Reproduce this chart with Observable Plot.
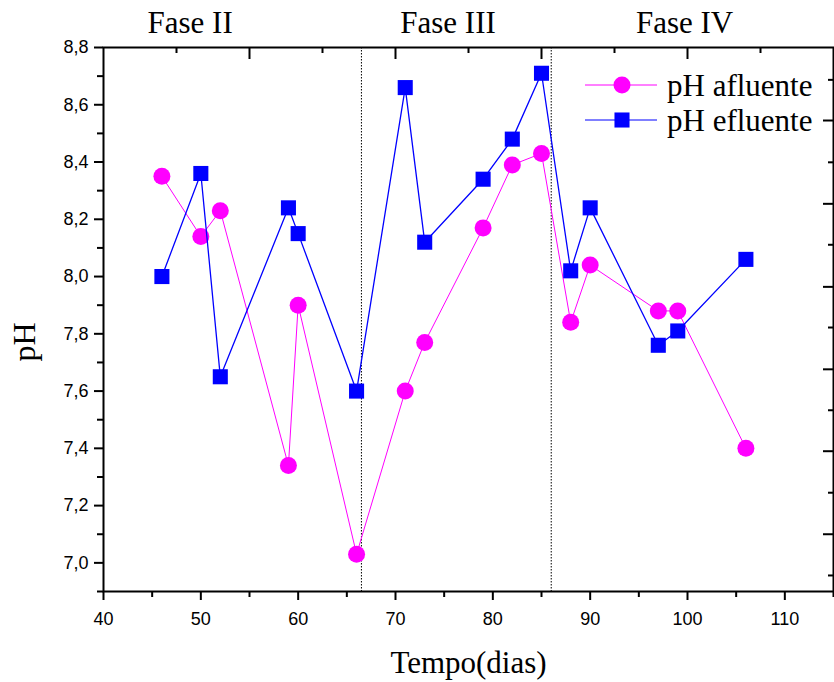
<!DOCTYPE html>
<html>
<head>
<meta charset="utf-8">
<script src="https://cdn.jsdelivr.net/npm/d3@7"></script>
<script src="https://cdn.jsdelivr.net/npm/@observablehq/plot@0.6"></script>
<style>
  html, body { margin: 0; padding: 0; background: white; }
</style>
</head>
<body>
<script>
// ---- data ----
const days = [46, 50, 52, 59, 60, 66, 71, 73, 79, 82, 85, 88, 90, 97, 99, 106];
const phAfluente = [8.35, 8.14, 8.23, 7.34, 7.90, 7.03, 7.60, 7.77, 8.17, 8.39, 8.43, 7.84, 8.04, 7.88, 7.88, 7.40];
const phEfluente = [8.00, 8.36, 7.65, 8.24, 8.15, 7.60, 8.66, 8.12, 8.34, 8.48, 8.71, 8.02, 8.24, 7.76, 7.81, 8.06];
const seriesNames = ["pH afluente", "pH efluente"];
const seriesColors = ["#ff00ff", "#0000ff"];
const seriesSymbols = ["circle", "square"];

const phaseNames = ["Fase II", "Fase III", "Fase IV"];
const phaseCenters = [48.9, 75.4, 99.7];
const phaseBoundaries = [66.5, 86];

const xMajorTicks = [40, 50, 60, 70, 80, 90, 100, 110];
const xMinorTicks = [45, 55, 65, 75, 85, 95, 105, 115];
const yMajorTicks = [7.0, 7.2, 7.4, 7.6, 7.8, 8.0, 8.2, 8.4, 8.6, 8.8];
const yMinorTicks = [6.9, 7.1, 7.3, 7.5, 7.7, 7.9, 8.1, 8.3, 8.5, 8.7];
const topMajorTicks = [55, 70, 85, 100];
const topMinorTicks = [47.5, 62.5, 77.5, 92.5, 107.5];
const rightMajorTicks = [8.545, 8.254, 7.964, 7.676, 7.390, 7.100];
const rightMinorTicks = [8.687, 8.399, 8.111, 7.822, 7.533, 7.245, 6.956];

const xLabel = "Tempo(dias)";
const yLabel = "pH";

// ---- tables ----
const afluente = days.map((d, i) => ({day: d, ph: phAfluente[i]}));
const efluente = days.map((d, i) => ({day: d, ph: phEfluente[i]}));
const phases = phaseNames.map((n, i) => ({name: n, x: phaseCenters[i]}));

const serif = "Liberation Serif, Times New Roman, serif";
const sans = "Liberation Sans, Arial, sans-serif";
const fmt = d => d.toFixed(1).replace(".", ",");
const blank = () => "";

const chart = Plot.plot({
  width: 834,
  height: 682,
  marginTop: 47,
  marginRight: 1,
  marginBottom: 91,
  marginLeft: 103,
  x: {domain: [40, 115]},
  y: {domain: [6.9, 8.8]},
  style: {fontFamily: sans, fontSize: "18px", color: "black", background: "white"},
  marks: [
    Plot.axisX({ticks: xMajorTicks, tickSize: 9, tickPadding: 12, strokeWidth: 2, label: null, tickFormat: d => String(d)}),
    Plot.axisX({ticks: xMinorTicks, tickSize: 6, strokeWidth: 2, label: null, tickFormat: blank}),
    Plot.axisX({anchor: "top", ticks: topMajorTicks, tickSize: -11, strokeWidth: 2, label: null, tickFormat: blank}),
    Plot.axisX({anchor: "top", ticks: topMinorTicks, tickSize: -5, strokeWidth: 2, label: null, tickFormat: blank}),
    Plot.axisY({ticks: yMajorTicks, tickSize: 9, tickPadding: 6, strokeWidth: 2, label: null, tickFormat: fmt}),
    Plot.axisY({ticks: yMinorTicks, tickSize: 6, strokeWidth: 2, label: null, tickFormat: blank}),
    Plot.axisY({anchor: "right", ticks: rightMajorTicks, tickSize: -11, strokeWidth: 2, label: null, tickFormat: blank}),
    Plot.axisY({anchor: "right", ticks: rightMinorTicks, tickSize: -6, strokeWidth: 2, label: null, tickFormat: blank}),
    Plot.ruleX(phaseBoundaries, {stroke: "black", strokeWidth: 1, strokeDasharray: "1.5,1.5"}),
    Plot.line(afluente, {x: "day", y: "ph", stroke: seriesColors[0], strokeWidth: 1}),
    Plot.dot(afluente, {x: "day", y: "ph", r: 8.5, fill: seriesColors[0], symbol: seriesSymbols[0]}),
    Plot.line(efluente, {x: "day", y: "ph", stroke: seriesColors[1], strokeWidth: 1.3}),
    Plot.dot(efluente, {x: "day", y: "ph", r: 8.5, fill: seriesColors[1], symbol: seriesSymbols[1]}),
    Plot.frame({stroke: "black", strokeWidth: 2}),
    Plot.text(phases, {x: "x", text: "name", frameAnchor: "top", lineAnchor: "bottom", dy: -15,
      fontFamily: serif, fontSize: 31, fill: "black"}),
    Plot.text([xLabel], {text: d => d, frameAnchor: "bottom", lineAnchor: "bottom", dy: 81,
      fontFamily: serif, fontSize: 31, fill: "black"})
  ]
});

const svg = d3.select(chart);

// ---- y axis title (rotated) ----
svg.append("text")
  .attr("transform", "translate(35,342) rotate(-90)")
  .attr("text-anchor", "middle")
  .attr("font-family", serif)
  .attr("font-size", 32)
  .attr("fill", "black")
  .text(yLabel);

// ---- in-plot legend ----
const lg = svg.append("g").attr("class", "legend");
seriesNames.forEach((name, i) => {
  const cy = 85 + i * 35;
  lg.append("line")
    .attr("x1", 585).attr("x2", 657).attr("y1", cy).attr("y2", cy)
    .attr("stroke", seriesColors[i]).attr("stroke-width", 1);
  lg.append("path")
    .attr("transform", `translate(622,${cy})`)
    .attr("d", d3.symbol(i === 0 ? d3.symbolCircle : d3.symbolSquare, Math.PI * 8.5 * 8.5)())
    .attr("fill", seriesColors[i]);
  lg.append("text")
    .attr("x", 667).attr("y", cy + 11)
    .attr("text-anchor", "start")
    .attr("font-family", serif).attr("font-size", 31)
    .attr("fill", "black")
    .text(name);
});

document.body.appendChild(chart);
</script>
</body>
</html>
